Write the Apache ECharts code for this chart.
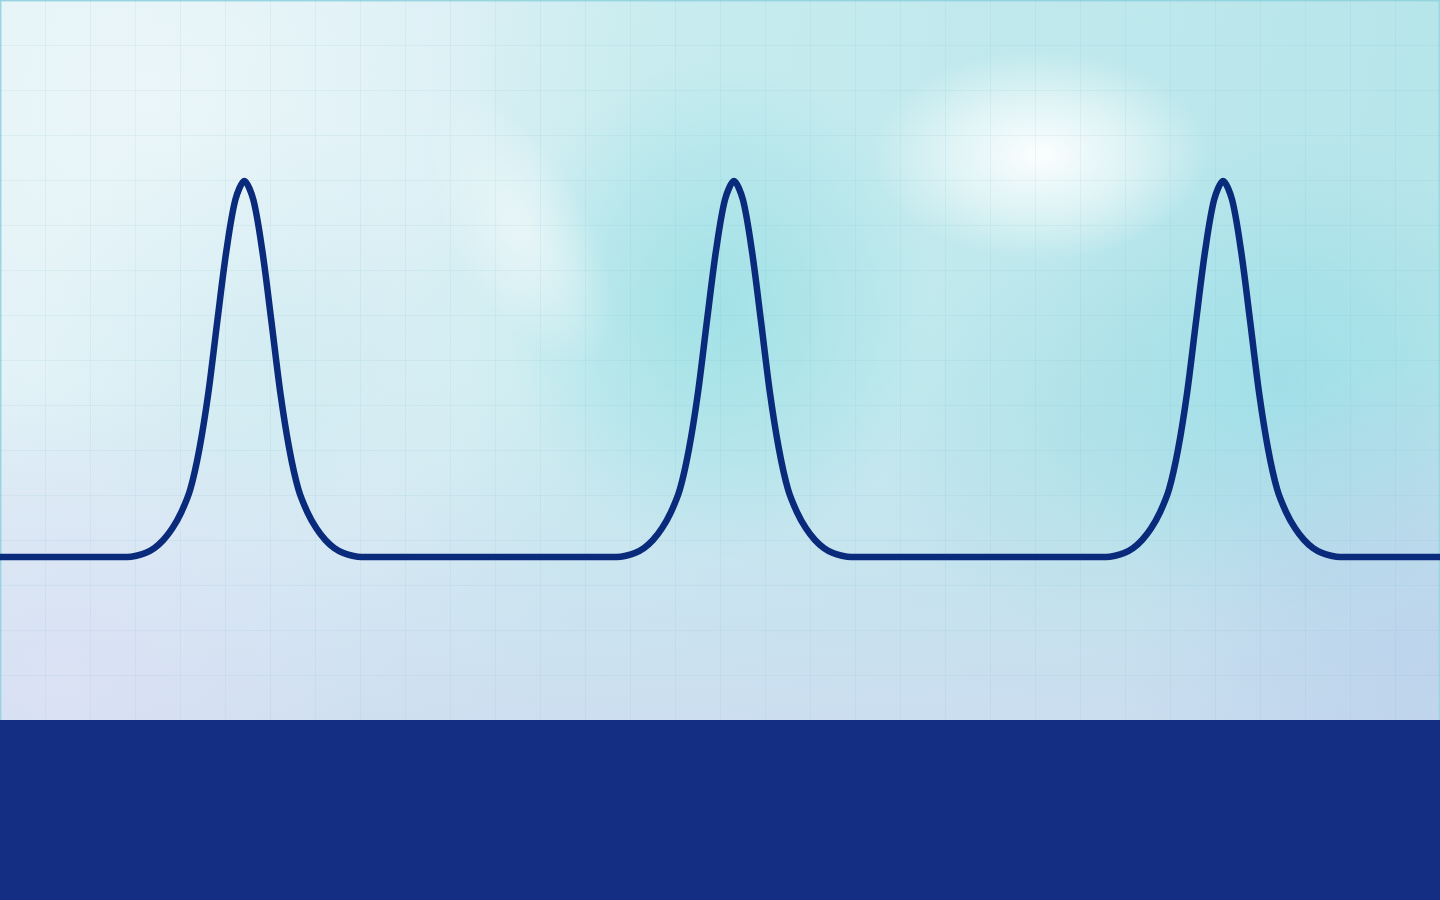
<!DOCTYPE html>
<html>
<head>
<meta charset="utf-8">
<style>
  html, body { margin: 0; padding: 0; width: 1440px; height: 900px; overflow: hidden; }
  #chart { width: 1440px; height: 900px; }
</style>
<script src="https://cdn.jsdelivr.net/npm/echarts@6/dist/echarts.min.js"></script>
</head>
<body>
<div id="chart"></div>
<script>
// x positions (grid cells) of the traced pulse line
const pulseX = [
  0,
  2.83, 3.03, 3.23, 3.43, 3.63, 3.83, 4.03, 4.23, 4.43, 4.63, 4.83, 5.03, 5.23,
  5.43,
  5.63, 5.83, 6.03, 6.23, 6.43, 6.63, 6.83, 7.03, 7.23, 7.43, 7.63, 7.83, 8.03,
  13.71, 13.91, 14.11, 14.31, 14.51, 14.71, 14.91, 15.11, 15.31, 15.51, 15.71, 15.91, 16.11,
  16.31,
  16.51, 16.71, 16.91, 17.11, 17.31, 17.51, 17.71, 17.91, 18.11, 18.31, 18.51, 18.71, 18.91,
  24.58, 24.78, 24.98, 25.18, 25.38, 25.58, 25.78, 25.98, 26.18, 26.38, 26.58, 26.78, 26.98,
  27.18,
  27.38, 27.58, 27.78, 27.98, 28.18, 28.38, 28.58, 28.78, 28.98, 29.18, 29.38, 29.58, 29.78,
  32
];
// y values (grid cells) of the traced pulse line
const pulseY = [
  7.62,
  7.62, 7.65, 7.71, 7.82, 8.00, 8.26, 8.62, 9.13, 10.02, 11.27, 12.87, 14.42, 15.56,
  15.98,
  15.56, 14.42, 12.87, 11.27, 10.02, 9.13, 8.62, 8.26, 8.00, 7.82, 7.71, 7.65, 7.62,
  7.62, 7.65, 7.71, 7.82, 8.00, 8.26, 8.62, 9.13, 10.02, 11.27, 12.87, 14.42, 15.56,
  15.98,
  15.56, 14.42, 12.87, 11.27, 10.02, 9.13, 8.62, 8.26, 8.00, 7.82, 7.71, 7.65, 7.62,
  7.62, 7.65, 7.71, 7.82, 8.00, 8.26, 8.62, 9.13, 10.02, 11.27, 12.87, 14.42, 15.56,
  15.98,
  15.56, 14.42, 12.87, 11.27, 10.02, 9.13, 8.62, 8.26, 8.00, 7.82, 7.71, 7.65, 7.62,
  7.62
];
// axis extents (grid cells)
const xRange = [0, 32];
const yRange = [0, 20];
// dark footer band (y range, grid cells)
const bandRange = [0, 4];

const chart = echarts.init(document.getElementById('chart'), null, { renderer: 'canvas' });

function glow(cx, cy, r, color, alpha, sx, rot) {
  return {
    type: 'circle', silent: true, z: -100,
    shape: { cx: cx, cy: cy, r: r },
    scaleX: sx || 1, rotation: rot || 0, originX: cx, originY: cy,
    style: { fill: { type: 'radial', x: 0.5, y: 0.5, r: 0.5, colorStops: [
      { offset: 0, color: 'rgba(' + color + ',' + alpha + ')' },
      { offset: 0.5, color: 'rgba(' + color + ',' + (alpha * 0.55) + ')' },
      { offset: 1, color: 'rgba(' + color + ',0)' } ] } }
  };
}

const option = {
  backgroundColor: '#d6eef3',
  animation: false,
  graphic: {
    elements: [
      { type: 'rect', silent: true, z: -110, shape: { x: 0, y: 0, width: 1440, height: 900 },
        style: { fill: { type: 'linear', x: 0, y: 0, x2: 1, y2: 0.25, colorStops: [
          { offset: 0, color: '#e2f2f7' }, { offset: 0.3, color: '#dcf0f5' },
          { offset: 0.45, color: '#c8ecef' }, { offset: 1, color: '#b6e5ea' } ] } } },
      { type: 'rect', silent: true, z: -105, shape: { x: 0, y: 380, width: 1440, height: 340 },
        style: { fill: { type: 'linear', x: 0, y: 0, x2: 0, y2: 1, colorStops: [
          { offset: 0, color: 'rgba(205,222,240,0)' }, { offset: 1, color: 'rgba(205,220,240,0.85)' } ] } } },
      glow(720, 310, 250, '150,222,228', 0.75, 0.85),
      glow(1280, 380, 250, '150,220,230', 0.7),
      glow(1080, 430, 200, '165,220,230', 0.45),
      glow(260, 330, 220, '190,228,236', 0.5),
      glow(150, 90, 360, '238,247,250', 0.7),
      glow(520, 230, 150, '240,248,250', 0.75, 0.45, 0.5),
      glow(1040, 155, 105, '255,255,255', 0.95, 1.6),
      glow(60, 690, 300, '222,226,245', 0.7),
      glow(1420, 660, 300, '185,208,235', 0.7)
    ]
  },
  grid: { left: 0, right: 0, top: 0, bottom: 0, show: true, borderColor: 'rgba(150,215,225,0.9)', borderWidth: 3, backgroundColor: 'transparent' },
  xAxis: {
    type: 'value', min: xRange[0], max: xRange[1], interval: 1,
    axisLine: { show: false }, axisTick: { show: false }, axisLabel: { show: false },
    splitLine: { show: true, lineStyle: { color: 'rgba(110,180,200,0.1)', width: 1 } }
  },
  yAxis: {
    type: 'value', min: yRange[0], max: yRange[1], interval: 1,
    axisLine: { show: false }, axisTick: { show: false }, axisLabel: { show: false },
    splitLine: { show: true, lineStyle: { color: 'rgba(110,180,200,0.1)', width: 1 } }
  },
  series: [{
    type: 'line',
    data: pulseX.map((x, i) => [x, pulseY[i]]),
    showSymbol: false,
    smooth: 0.3,
    lineStyle: { color: '#0a2a7c', width: 6.5 },
    z: 5,
    markArea: {
      silent: true,
      itemStyle: { color: '#142e83', opacity: 1 },
      data: [[{ yAxis: bandRange[0] }, { yAxis: bandRange[1] }]]
    }
  }]
};
chart.setOption(option);
</script>
</body>
</html>
